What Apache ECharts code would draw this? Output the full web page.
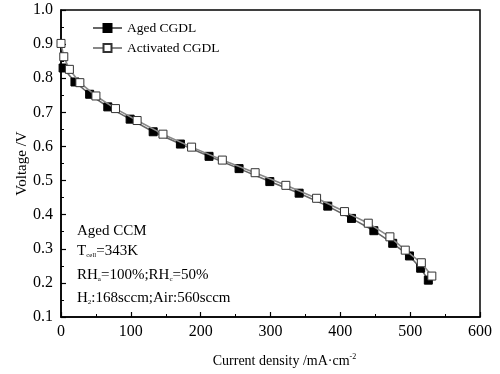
<!DOCTYPE html>
<html>
<head>
<meta charset="utf-8">
<script src="https://cdn.jsdelivr.net/npm/echarts@6/dist/echarts.min.js"></script>
<style>
  html, body { margin: 0; padding: 0; background: #fff; }
  #chart { width: 500px; height: 374px; }
</style>
</head>
<body>
<div id="chart"></div>
<script>
// data
const agedX = [3, 20, 41, 67, 99, 132, 171, 212, 255, 299, 341, 382, 416, 448, 475, 499, 515, 526];
const agedY = [0.830, 0.789, 0.753, 0.716, 0.680, 0.643, 0.607, 0.571, 0.535, 0.497, 0.463, 0.425, 0.389, 0.353, 0.316, 0.279, 0.243, 0.208];
const activX = [0, 4, 12, 27, 50, 78, 109, 146, 187, 231, 278, 322, 366, 406, 440, 471, 493, 516, 531];
const activY = [0.902, 0.863, 0.826, 0.787, 0.748, 0.711, 0.676, 0.636, 0.598, 0.560, 0.523, 0.486, 0.448, 0.409, 0.375, 0.335, 0.296, 0.259, 0.220];
const seriesNames = ['Aged CGDL', 'Activated CGDL'];
const noteLines = [
  'Aged CCM',
  'T{sub|cell}=343K',
  'RH{sub|a}=100%;RH{sub|c}=50%',
  'H{sub|2}:168sccm;Air:560sccm',
];

const FONT = '"Liberation Serif", "DejaVu Serif", serif';

const toPairs = (xs, ys) => xs.map((x, i) => [x, ys[i]]);

const chart = echarts.init(document.getElementById('chart'));

const axisCommon = {
  axisLine: { show: true, lineStyle: { color: '#000', width: 1.5 } },
  axisTick: { inside: true, length: 5, lineStyle: { color: '#000', width: 1.2 } },
  minorTick: { show: true, splitNumber: 2, length: 3, lineStyle: { color: '#000', width: 1 } },
  splitLine: { show: false },
  axisLabel: { color: '#000', fontFamily: FONT, fontSize: 16 },
};

chart.setOption({
  animation: false,
  backgroundColor: '#fff',
  grid: {
    left: 61, right: 20, top: 10, bottom: 57,
    show: true, borderColor: '#000', borderWidth: 1.5,
  },
  legend: {
    data: seriesNames,
    orient: 'vertical',
    left: 87,
    top: 16,
    itemWidth: 29,
    itemHeight: 10,
    itemGap: 6,
    textStyle: { fontFamily: FONT, fontSize: 13.5, color: '#000' },
  },
  xAxis: {
    type: 'value',
    min: 0, max: 600, interval: 100,
    ...axisCommon,
    axisLabel: { ...axisCommon.axisLabel, margin: 7 },
    name: '{a|Current density /mA·cm}{sup|-2}',
    nameLocation: 'middle',
    nameGap: 36,
    nameTextStyle: {
      padding: [0, 0, 0, 28],
      rich: {
        a: { fontFamily: FONT, fontSize: 14, color: '#000' },
        sup: { fontFamily: FONT, fontSize: 8, color: '#000', verticalAlign: 'top', padding: [0, 0, 8, 0] },
      },
    },
  },
  yAxis: {
    type: 'value',
    min: 0.1, max: 1.0, interval: 0.1,
    ...axisCommon,
    axisLabel: { ...axisCommon.axisLabel, margin: 8, formatter: v => v.toFixed(1) },
    name: 'Voltage /V',
    nameLocation: 'middle',
    nameGap: 31,
    nameMoveOverlap: false,
    nameTextStyle: { fontFamily: FONT, fontSize: 15, color: '#000' },
  },
  series: [
    {
      name: seriesNames[0],
      type: 'line',
      data: toPairs(agedX, agedY),
      symbol: 'rect',
      symbolSize: 8,
      itemStyle: { color: '#000', borderColor: '#000', borderWidth: 1 },
      lineStyle: { color: '#666', width: 1.6 },
      z: 2,
    },
    {
      name: seriesNames[1],
      type: 'line',
      data: toPairs(activX, activY),
      symbol: 'rect',
      symbolSize: 8,
      itemStyle: { color: '#fff', borderColor: '#333', borderWidth: 1 },
      lineStyle: { color: '#888', width: 1.6 },
      z: 3,
    },
  ],
  graphic: noteLines.map((t, i) => ({
    type: 'text',
    x: 77,
    y: [231, 251, 275, 298][i],
    style: {
      text: t,
      verticalAlign: 'middle',
      fontFamily: FONT,
      fontSize: 15,
      fill: '#000',
      rich: {
        sub: { fontFamily: FONT, fontSize: 7, fill: '#000', verticalAlign: 'bottom', padding: [9, 0, 0, 0] },
      },
    },
  })),
});
</script>
</body>
</html>
